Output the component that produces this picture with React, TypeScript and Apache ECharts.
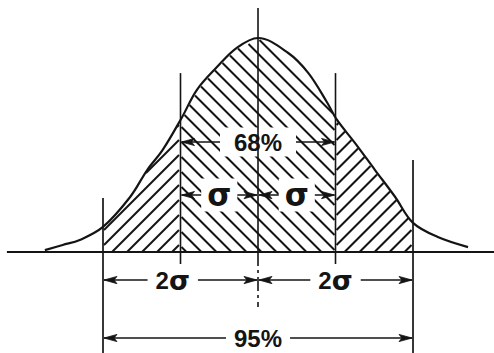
import React, { useEffect, useRef } from 'react';
import * as echarts from 'echarts';

// Bell curve, x in σ units from the mean, y in percent of the peak height
const curveX = [-2.75, -2.52, -2.3, -2.0, -1.65, -1.43, -1.23, -0.98, -0.79, -0.53, -0.27, 0, 0.39, 0.65, 0.89, 1.02, 1.25, 1.51, 1.77, 2.0, 2.32, 2.71];
const curveY = [0.9, 3.3, 5.6, 11.7, 25.7, 38.3, 47.7, 63, 75.7, 86.4, 95.5, 100, 93, 83.6, 70, 61.7, 51, 38.3, 25.7, 13.6, 7, 2.3];

// Reference lines at the mean, ±1σ and ±2σ
const sigmaLines = [-2, -1, 0, 1, 2];

// Band labels
const band68Label = '68%';
const band95Label = '95%';
const sigmaLabel = 'σ';
const twoSigmaLabel = ['2', 'σ'];

// Hatched bands: direction of the hatch strokes in each band
const hatchBands = [
  { from: -2, to: -1, slope: 'fwd' },
  { from: -1, to: 1, slope: 'back' },
  { from: 1, to: 2, slope: 'fwd' },
];

// Drawing layout (in axis units)
const X_MIN = -3.329;
const X_MAX = 3.045;
const Y_MIN = -47.2;
const Y_MAX = 117.76;
const LAYOUT = {
  centerTop: 114,
  centerBottom: -25.7,
  sigmaTop: 83.6,
  sigmaBottom: -5.6,
  twoSigmaTop: [25.2, 43],
  baseStart: -3.24,
  row68: 51.4,
  rowSigma: 26.6,
  row2Sigma: -13.1,
  row95: -40.2,
  sigmaLabelX: [-0.5, 0.5],
  twoSigmaLabelX: [-1.1, 1.0],
};

const INK = '#141414';

function renderDiagram(_params: any, api: any) {
  const P = (s: number, h: number) => api.coord([s, h]) as number[];
  const baseY = P(0, 0)[1];
  const pts = curveX.map((x, i) => P(x, curveY[i]));

  const curveAt = (px: number) => {
    if (px <= pts[0][0] || px >= pts[pts.length - 1][0]) return baseY;
    for (let i = 1; i < pts.length; i++) {
      if (px <= pts[i][0]) {
        const [x0, y0] = pts[i - 1];
        const [x1, y1] = pts[i];
        return y0 + ((y1 - y0) * (px - x0)) / (x1 - x0);
      }
    }
    return baseY;
  };

  const children: any[] = [];
  const line = (x1: number, y1: number, x2: number, y2: number, w: number, dash?: number[]) => {
    children.push({
      type: 'line',
      silent: true,
      shape: { x1, y1, x2, y2 },
      style: { stroke: INK, lineWidth: w, lineDash: dash || null, lineCap: 'butt' },
    });
  };

  // Hatching inside each band, clipped to the curve
  const H = baseY - Math.min(...pts.map((p) => p[1])) + 2;
  const step = 15;
  hatchBands.forEach((band) => {
    const xa = P(band.from, 0)[0];
    const xb = P(band.to, 0)[0];
    const dx = band.slope === 'back' ? -1 : 1;
    const startX = dx < 0 ? xa + 6 : xa - H;
    const endX = dx < 0 ? xb + H : xb;
    for (let x0 = startX; x0 <= endX; x0 += step) {
      let start: number[] | null = null;
      let prev: number[] | null = null;
      for (let t = 0; t <= H; t += 0.5) {
        const x = x0 + dx * t;
        const y = baseY - t;
        const inside = x >= xa + 1 && x <= xb - 1 && y >= curveAt(x) + 1;
        if (inside && !start) start = [x, y];
        if (!inside && start && prev) {
          line(start[0], start[1], prev[0], prev[1], 2);
          start = null;
        }
        prev = [x, y];
      }
      if (start && prev) line(start[0], start[1], prev[0], prev[1], 2);
    }
  });

  // Dimension lines with arrowheads at both ends
  const arrow = (tipX: number, y: number, dir: number) => {
    const L = 13;
    const w = 3.6;
    children.push({
      type: 'polygon',
      silent: true,
      shape: { points: [[tipX, y], [tipX - dir * L, y - w], [tipX - dir * (L - 3), y], [tipX - dir * L, y + w]] },
      style: { fill: INK, stroke: INK, lineWidth: 0.8 },
    });
  };
  const dim = (sa: number, sb: number, h: number) => {
    const [xa, y] = P(sa, h);
    const xb = P(sb, h)[0];
    line(xa + 1, y, xb - 1, y, 1.6);
    arrow(xa + 1, y, -1);
    arrow(xb - 1, y, 1);
  };
  dim(sigmaLines[1], sigmaLines[3], LAYOUT.row68);
  dim(sigmaLines[1], sigmaLines[2], LAYOUT.rowSigma);
  dim(sigmaLines[2], sigmaLines[3], LAYOUT.rowSigma);
  dim(sigmaLines[0], sigmaLines[2], LAYOUT.row2Sigma);
  dim(sigmaLines[2], sigmaLines[4], LAYOUT.row2Sigma);
  dim(sigmaLines[0], sigmaLines[4], LAYOUT.row95);

  // Labels on white plates
  const label = (s: number, h: number, style: any) => {
    const [x, y] = P(s, h);
    children.push({
      type: 'text',
      silent: true,
      x,
      y,
      style: {
        fill: INK,
        align: 'center',
        verticalAlign: 'middle',
        textAlign: 'center',
        textVerticalAlign: 'middle',
        backgroundColor: '#fff',
        ...style,
      },
    });
  };
  const pctFont = { fontFamily: 'Liberation Sans', fontWeight: 'bold', fontSize: 24 };
  label(0, LAYOUT.row68, { text: band68Label, ...pctFont, padding: [3, 14, 2, 14] });
  label(0, LAYOUT.row95, { text: band95Label, ...pctFont, padding: [2, 8, 2, 8] });
  LAYOUT.sigmaLabelX.forEach((s) => {
    label(s, LAYOUT.rowSigma, {
      text: sigmaLabel,
      fontFamily: 'DejaVu Sans',
      fontWeight: 'bold',
      fontSize: 31,
      padding: [0, 6, 2, 6],
    });
  });
  LAYOUT.twoSigmaLabelX.forEach((s) => {
    label(s, LAYOUT.row2Sigma, {
      text: `{a|${twoSigmaLabel[0]}}{b|${twoSigmaLabel[1]}}`,
      padding: [0, 8, 0, 8],
      rich: {
        a: { fontFamily: 'Liberation Sans', fontWeight: 'bold', fontSize: 24, fill: INK },
        b: { fontFamily: 'DejaVu Sans', fontWeight: 'bold', fontSize: 27, fill: INK },
      },
    });
  });

  // Vertical reference lines
  const cx = P(sigmaLines[2], 0)[0];
  line(cx, P(0, LAYOUT.centerTop)[1], cx, baseY, 1.6);
  line(cx, baseY, cx, P(0, LAYOUT.centerBottom)[1], 1.6, [14, 4, 3, 4]);
  [sigmaLines[1], sigmaLines[3]].forEach((s) => {
    const x = P(s, 0)[0];
    line(x, P(s, LAYOUT.sigmaTop)[1], x, P(s, LAYOUT.sigmaBottom)[1], 1.6);
  });
  [sigmaLines[0], sigmaLines[4]].forEach((s, i) => {
    const x = P(s, 0)[0];
    line(x, P(s, LAYOUT.twoSigmaTop[i])[1], x, P(s, Y_MIN)[1], 1.7);
  });

  // Baseline
  line(P(LAYOUT.baseStart, 0)[0], baseY, P(X_MAX, 0)[0], baseY, 2);

  return { type: 'group', children };
}

export default function App() {
  const ref = useRef<HTMLDivElement>(null);

  useEffect(() => {
    if (!ref.current) return;
    const chart = echarts.init(ref.current, undefined, { renderer: 'svg' });
    chart.setOption({
      animation: false,
      backgroundColor: '#fff',
      grid: { left: 0, right: 0, top: 0, bottom: 0 },
      xAxis: { type: 'value', min: X_MIN, max: X_MAX, show: false },
      yAxis: { type: 'value', min: Y_MIN, max: Y_MAX, show: false },
      series: [
        {
          type: 'custom',
          clip: false,
          silent: true,
          data: [[0, 0]],
          renderItem: renderDiagram,
        },
        {
          type: 'line',
          silent: true,
          smooth: 0.35,
          showSymbol: false,
          symbol: 'none',
          data: curveX.map((x, i) => [x, curveY[i]]),
          lineStyle: { color: INK, width: 2.2 },
          z: 3,
        },
      ],
    });
    return () => chart.dispose();
  }, []);

  return <div ref={ref} style={{ position: 'absolute', left: 0, top: 0, width: 494, height: 353 }} />;
}
